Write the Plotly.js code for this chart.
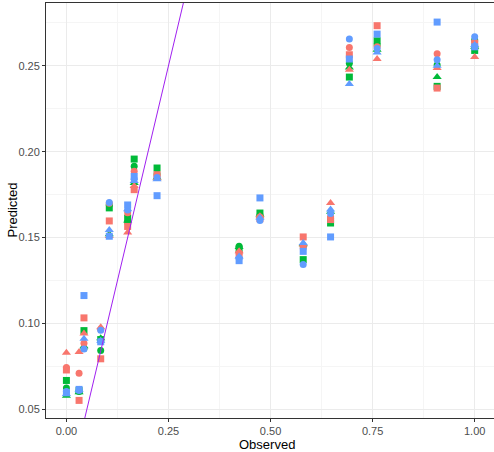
<!DOCTYPE html>
<html>
<head>
<meta charset="utf-8">
<script src="https://cdn.plot.ly/plotly-3.0.1.min.js"></script>
<style>html,body{margin:0;padding:0;background:#fff}#chart{width:494px;height:452px}</style>
</head>
<body>
<div id="chart"></div>
<script>
// Observed values (x) shared by all series
var observed = [0.000, 0.031, 0.043, 0.084, 0.105, 0.150, 0.166, 0.222, 0.423, 0.474, 0.580, 0.647, 0.693, 0.761, 0.908, 1.000];

// Predicted values per colour group and shape
var redCircle    = [0.0745, 0.0711, 0.0885, 0.0965, 0.1700, 0.1645, 0.1886, 0.1860, 0.1410, 0.1620, 0.1440, 0.1620, 0.2606, 0.2610, 0.2570, 0.2640];
var redTriangle  = [0.0830, 0.0835, 0.0942, 0.0979, 0.1510, 0.1530, 0.1800, 0.1845, 0.1420, 0.1625, 0.1460, 0.1701, 0.2477, 0.2539, 0.2487, 0.2551];
var redSquare    = [0.0730, 0.0553, 0.1033, 0.0795, 0.1597, 0.1565, 0.1779, 0.1866, 0.1401, 0.1610, 0.1504, 0.1605, 0.2564, 0.2733, 0.2370, 0.2628];
var greenCircle  = [0.0625, 0.0605, 0.0855, 0.0843, 0.1690, 0.1590, 0.1915, 0.1870, 0.1450, 0.1630, 0.1450, 0.1610, 0.2515, 0.2620, 0.2504, 0.2650];
var greenTriangle= [0.0580, 0.0600, 0.0868, 0.0915, 0.1520, 0.1600, 0.1818, 0.1850, 0.1445, 0.1635, 0.1465, 0.1650, 0.2490, 0.2593, 0.2434, 0.2610];
var greenSquare  = [0.0669, 0.0610, 0.0959, 0.0907, 0.1673, 0.1614, 0.1957, 0.1905, 0.1434, 0.1643, 0.1372, 0.1585, 0.2434, 0.2645, 0.2380, 0.2589];
var blueCircle   = [0.0605, 0.0610, 0.0852, 0.0961, 0.1705, 0.1660, 0.1840, 0.1850, 0.1380, 0.1600, 0.1343, 0.1640, 0.2655, 0.2600, 0.2535, 0.2668];
var blueTriangle = [0.0590, 0.0615, 0.0911, 0.0900, 0.1545, 0.1665, 0.1830, 0.1840, 0.1390, 0.1615, 0.1469, 0.1663, 0.2394, 0.2577, 0.2500, 0.2620];
var blueSquare   = [0.0597, 0.0617, 0.1163, 0.0894, 0.1508, 0.1690, 0.1856, 0.1744, 0.1366, 0.1731, 0.1420, 0.1504, 0.2539, 0.2684, 0.2754, 0.2610];

// Reference line y = intercept + slope * x
var ablineIntercept = 0;
var ablineSlope = 1;

var xTickVals = [0, 0.25, 0.5, 0.75, 1];
var xTickText = ["0.00", "0.25", "0.50", "0.75", "1.00"];
var yTickVals = [0.05, 0.10, 0.15, 0.20, 0.25];
var yTickText = ["0.05", "0.10", "0.15", "0.20", "0.25"];
var xTitle = "Observed";
var yTitle = "Predicted";

var groups = [
  {name: "green", color: "#00BA38", series: [greenCircle, greenTriangle, greenSquare]},
  {name: "red",   color: "#F8766D", series: [redCircle, redTriangle, redSquare]},
  {name: "blue",  color: "#619CFF", series: [blueCircle, blueTriangle, blueSquare]}
];
var symbols = ["circle", "triangle-up", "square"];
var sizes = [7, 8, 7];

var traces = [];
groups.forEach(function(g) {
  g.series.forEach(function(vals, i) {
    traces.push({
      type: "scatter", mode: "markers",
      x: observed, y: vals,
      name: g.name + " " + symbols[i],
      marker: {color: g.color, symbol: symbols[i], size: sizes[i], line: {width: 0}},
      showlegend: false, hoverinfo: "skip"
    });
  });
});

var lineX = [0, 1];
traces.push({
  type: "scatter", mode: "lines",
  x: lineX, y: lineX.map(function(v){ return ablineIntercept + ablineSlope * v; }),
  line: {color: "#A020F0", width: 1},
  showlegend: false, hoverinfo: "skip"
});

var layout = {
  width: 494, height: 452,
  margin: {l: 46, r: 0, t: 3, b: 33.5, pad: 0},
  paper_bgcolor: "#ffffff", plot_bgcolor: "#ffffff",
  font: {family: "Liberation Sans, Arial, sans-serif", color: "#000"},
  showlegend: false,
  xaxis: {
    range: [-0.05, 1.0473],
    tickvals: xTickVals, ticktext: xTickText,
    tickfont: {size: 11, color: "#4D4D4D"},
    ticks: "outside", ticklen: 3, tickcolor: "#333333", tickwidth: 1,
    showline: true, linecolor: "#333333", linewidth: 1, mirror: true,
    showgrid: true, gridcolor: "#EBEBEB", gridwidth: 1,
    minor: {showgrid: true, dtick: 0.125, tick0: 0.125, gridcolor: "#F5F5F5", gridwidth: 1},
    zeroline: false
  },
  yaxis: {
    range: [0.04506, 0.2865],
    tickvals: yTickVals, ticktext: yTickText,
    tickfont: {size: 11, color: "#4D4D4D"},
    ticks: "outside", ticklen: 3, tickcolor: "#333333", tickwidth: 1,
    showline: true, linecolor: "#333333", linewidth: 1, mirror: false,
    showgrid: true, gridcolor: "#EBEBEB", gridwidth: 1,
    minor: {showgrid: true, dtick: 0.025, tick0: 0.075, gridcolor: "#F5F5F5", gridwidth: 1},
    zeroline: false
  },
  annotations: [
    {text: xTitle, xref: "paper", yref: "paper", x: 0.493, y: 0, xanchor: "center", yanchor: "middle",
     yshift: -26.5, borderpad: 0, showarrow: false, font: {size: 13, color: "#000"}},
    {text: yTitle, xref: "paper", yref: "paper", x: 0, y: 0.5, xanchor: "center", yanchor: "middle",
     xshift: -34, borderpad: 0, textangle: -90, showarrow: false, font: {size: 13, color: "#000"}}
  ]
};

Plotly.newPlot("chart", traces, layout, {displayModeBar: false, staticPlot: true});
</script>
</body>
</html>
